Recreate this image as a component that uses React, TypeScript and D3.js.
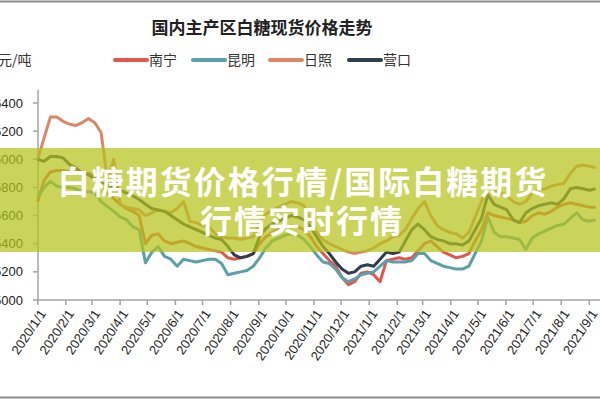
import React from "react";
import * as d3 from "d3";

const dates = [
  "2020-01-01","2020-01-08","2020-01-15","2020-01-22","2020-01-29","2020-02-05","2020-02-12","2020-02-19","2020-02-26",
  "2020-03-04","2020-03-11","2020-03-18","2020-03-25","2020-04-01","2020-04-08","2020-04-15","2020-04-22","2020-04-29",
  "2020-05-06","2020-05-13","2020-05-20","2020-05-27","2020-06-03","2020-06-10","2020-06-17","2020-06-24","2020-07-01",
  "2020-07-08","2020-07-15","2020-07-22","2020-07-29","2020-08-05","2020-08-12","2020-08-19","2020-08-26","2020-09-02",
  "2020-09-09","2020-09-16","2020-09-23","2020-09-30","2020-10-07","2020-10-14","2020-10-21","2020-10-28","2020-11-04",
  "2020-11-11","2020-11-18","2020-11-25","2020-12-02","2020-12-09","2020-12-16","2020-12-23","2020-12-30",
  "2021-01-06","2021-01-13","2021-01-20","2021-01-27","2021-02-03","2021-02-10","2021-02-17","2021-02-24","2021-03-03",
  "2021-03-10","2021-03-17","2021-03-24","2021-03-31","2021-04-07","2021-04-14","2021-04-21","2021-04-28","2021-05-05",
  "2021-05-12","2021-05-19","2021-05-26","2021-06-02","2021-06-09","2021-06-16","2021-06-23","2021-06-30","2021-07-07",
  "2021-07-14","2021-07-21","2021-07-28","2021-08-04","2021-08-11","2021-08-18","2021-08-25","2021-09-01","2021-09-08"
];

const nanning = [
  5700,5850,5910,5920,5920,5914,5914,5900,5900,5880,5820,5760,5720,5680,5650,5630,5600,5400,
  5460,5470,5420,5400,5410,5420,5400,5380,5370,5360,5350,5340,5300,5290,5300,5310,5330,5400,
  5450,5480,5500,5520,5530,5520,5500,5450,5380,5330,5280,5240,5160,5110,5130,5190,5200,
  5180,5130,5280,5290,5300,5290,5300,5350,5400,5420,5380,5340,5320,5300,5310,5330,5420,5500,
  5620,5600,5590,5580,5570,5550,5560,5600,5620,5610,5630,5660,5680,5690,5680,5670,5660,5660
];

const kunming = [
  5729,5800,5843,5810,5800,5800,5790,5770,5770,5760,5700,5664,5630,5590,5571,5520,5500,5264,
  5340,5380,5310,5290,5240,5290,5280,5270,5280,5290,5290,5260,5180,5190,5200,5210,5240,5300,
  5370,5420,5440,5460,5470,5460,5430,5380,5320,5270,5260,5220,5160,5130,5150,5180,5190,
  5200,5240,5280,5270,5270,5270,5280,5330,5330,5280,5260,5240,5230,5220,5220,5240,5330,5420,
  5590,5480,5450,5450,5440,5430,5360,5440,5470,5490,5510,5530,5540,5580,5620,5570,5560,5570
];

const rizhao = [
  6000,6150,6300,6300,6270,6250,6240,6260,6290,6260,6190,5850,6000,5680,5660,5650,5640,5600,
  5620,5640,5630,5620,5650,5700,5560,5550,5530,5520,5470,5450,5440,5440,5430,5440,5450,5550,
  5610,5640,5660,5680,5700,5690,5670,5560,5480,5430,5400,5380,5360,5340,5330,5340,5350,
  5370,5400,5420,5450,5460,5500,5580,5650,5700,5600,5530,5500,5480,5470,5440,5480,5590,5700,
  5810,5780,5760,5740,5700,5680,5700,5760,5780,5790,5810,5820,5830,5900,5950,5960,5950,5940
];

const yingkou = [
  6000,5985,6020,6020,6010,5964,5940,5900,5890,5860,5840,5820,5800,5780,5760,5740,5714,5680,
  5650,5640,5630,5600,5570,5540,5520,5500,5480,5460,5440,5430,5380,5320,5300,5310,5330,5450,
  5510,5540,5560,5580,5600,5590,5570,5520,5450,5380,5330,5270,5220,5190,5200,5240,5250,
  5240,5290,5340,5330,5340,5420,5500,5540,5500,5450,5430,5420,5400,5400,5390,5420,5500,5580,
  5750,5680,5660,5640,5570,5550,5620,5650,5670,5680,5690,5680,5720,5790,5800,5790,5780,5790
];

const seriesNames = ["南宁", "昆明", "日照", "营口"];
const seriesColors = ["#e2574b", "#5ba0a8", "#db8767", "#2f3d4c"];
const yTicks = [5000, 5200, 5400, 5600, 5800, 6000, 6200, 6400];
const title = "国内主产区白糖现货价格走势";
const unitLabel = "元/吨";
const bannerLines = ["白糖期货价格行情/国际白糖期货", "行情实时行情"];

export default function App() {
  const W = 600, H = 400;
  const parse = d3.utcParse("%Y-%m-%d");
  const xs = dates.map((d) => parse(d) as Date);
  const x = d3
    .scaleUtc()
    .domain([parse("2020-01-01") as Date, parse("2021-09-01") as Date])
    .range([37.7, 589.3]);
  const y = d3.scaleLinear().domain([5000, 6400]).range([300, 103]);
  const xTicks = d3.utcMonth.range(parse("2020-01-01") as Date, parse("2021-09-02") as Date);
  const fmt = d3.utcFormat("%Y/%-m/%-d");
  const all = [nanning, kunming, rizhao, yingkou];
  const line = d3
    .line<number>()
    .x((_, i) => x(xs[i]))
    .y((v) => y(v));
  const axisColor = "#a3a3a3";
  const legendX = [115, 193, 270, 349];
  const cjk = "'Noto Sans CJK SC', 'Noto Sans', sans-serif";

  return (
    <svg width={W} height={H} style={{ position: "absolute", left: 0, top: 0, background: "#fff" }}>
      <rect x={0} y={0} width={W} height={H} fill="#fff" />
      <line x1={0} x2={W} y1={1.5} y2={1.5} stroke="#8c8c8c" strokeWidth={2} />
      <line x1={0} x2={W} y1={397.5} y2={397.5} stroke="#8c8c8c" strokeWidth={2} />
      <text x={262} y={34} textAnchor="middle" fontFamily={cjk} fontWeight={700} fontSize={17} fill="#222">
        {title}
      </text>
      <text x={-2} y={65} fontFamily={cjk} fontSize={14} fill="#333">{unitLabel}</text>
      {seriesNames.map((n, i) => (
        <g key={n}>
          <line x1={legendX[i]} x2={legendX[i] + 32} y1={60} y2={60} stroke={seriesColors[i]} strokeWidth={4} strokeLinecap="round" />
          <text x={legendX[i] + 34} y={65} fontFamily={cjk} fontSize={14} fill="#333">{n}</text>
        </g>
      ))}
      {/* axes */}
      <line x1={38} x2={38} y1={90} y2={300} stroke={axisColor} strokeWidth={1.5} />
      <line x1={38} x2={W} y1={300} y2={300} stroke={axisColor} strokeWidth={1.5} />
      {yTicks.map((t) => (
        <g key={t}>
          <line x1={33} x2={38} y1={y(t)} y2={y(t)} stroke={axisColor} strokeWidth={1.5} />
          <text x={23} y={y(t)} dy="0.35em" textAnchor="end" fontFamily="'Liberation Sans', Arial, sans-serif" fontSize={13} fill="#222">
            {t}
          </text>
        </g>
      ))}
      {xTicks.map((t) => (
        <g key={+t}>
          <line x1={x(t)} x2={x(t)} y1={300} y2={305} stroke={axisColor} strokeWidth={1.5} />
          <text
            transform={`translate(${x(t) + 5},${311}) rotate(-56)`}
            textAnchor="end"
            dy="0.35em"
            fontFamily="'Liberation Sans', Arial, sans-serif"
            fontSize={13}
            fill="#222"
          >
            {fmt(t)}
          </text>
        </g>
      ))}
      {/* series */}
      {all.map((s, i) => (
        <path key={i} d={line(s) || ""} fill="none" stroke={seriesColors[i]} strokeWidth={3} strokeLinejoin="round" />
      ))}
      {/* banner overlay */}
      <rect x={0} y={148} width={W} height={104} fill="#b5c41c" opacity={0.72} />
      <text x={303} y={194} textAnchor="middle" fontFamily={cjk} fontWeight={700} fontSize={32} letterSpacing={2} fill="#fff">
        {bannerLines[0]}
      </text>
      <text x={302} y={233} textAnchor="middle" fontFamily={cjk} fontWeight={700} fontSize={32} letterSpacing={2} fill="#fff">
        {bannerLines[1]}
      </text>
    </svg>
  );
}
